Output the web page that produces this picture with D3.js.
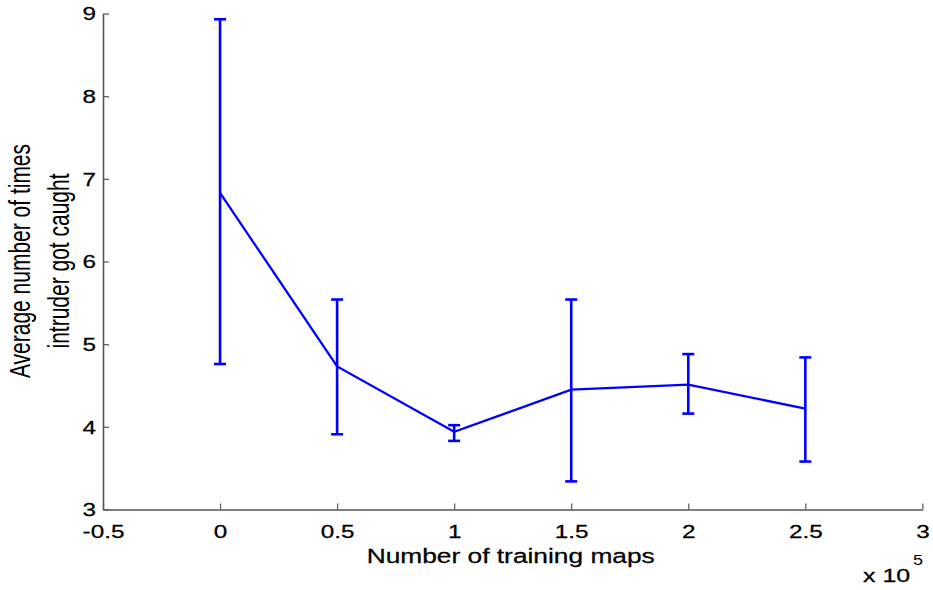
<!DOCTYPE html>
<html>
<head>
<meta charset="utf-8">
<script src="https://cdn.jsdelivr.net/npm/d3@7"></script>
<style>
  html, body { margin: 0; padding: 0; background: #fff; }
  svg { display: block; }
  text { font-family: "Liberation Sans", Arial, Helvetica, sans-serif; fill: #000; }
  .heavy { stroke: #000; stroke-width: 0.25px; }
</style>
</head>
<body>
<svg id="chart" width="933" height="590"></svg>
<script>
// Training-map counts (in units of 1e5) and caught-count statistics
const trainingMaps = [0, 0.5, 1, 1.5, 2, 2.5];
const meanCaught   = [6.83, 4.73, 3.94, 4.45, 4.51, 4.22];
const upperCaught  = [8.93, 5.54, 4.02, 5.54, 4.88, 4.84];
const lowerCaught  = [4.76, 3.91, 3.83, 3.34, 4.16, 3.58];
const xTicks = [-0.5, 0, 0.5, 1, 1.5, 2, 2.5, 3];
const yTicks = [3, 4, 5, 6, 7, 8, 9];

const data = trainingMaps.map((x, i) => ({
  x, mean: meanCaught[i], hi: upperCaught[i], lo: lowerCaught[i]
}));

const svg = d3.select("#chart");
const plotLeft = 103, plotRight = 922.4, plotTop = 13.5, plotBottom = 509.5;
const stretch = 1.35;   // wide glyph proportions used throughout the figure
const axisColor = "#555";
const blue = "#0000ff";

const x = d3.scaleLinear().domain([-0.5, 3]).range([plotLeft, plotRight]);
const y = d3.scaleLinear().domain([3, 9]).range([plotBottom, plotTop]);

// Bottom axis with inward ticks
const xAxis = svg.append("g")
  .attr("transform", `translate(0,${plotBottom})`)
  .call(d3.axisBottom(x).tickValues(xTicks).tickSizeInner(-6).tickSizeOuter(0)
        .tickFormat(d => String(d)));
xAxis.select(".domain").attr("stroke", axisColor).attr("stroke-width", 1.6);
xAxis.selectAll(".tick line").attr("stroke", axisColor).attr("stroke-width", 1.2);
xAxis.selectAll(".tick text")
  .attr("class", "heavy")
  .attr("y", 0).attr("dy", 0)
  .attr("transform", `translate(0,28.5) scale(${stretch},1)`)
  .style("font-size", "18px");

// Left axis with inward ticks
const yAxis = svg.append("g")
  .attr("transform", `translate(${plotLeft},0)`)
  .call(d3.axisLeft(y).tickValues(yTicks).tickSizeInner(-6).tickSizeOuter(0)
        .tickFormat(d => String(d)));
yAxis.select(".domain").attr("stroke", axisColor).attr("stroke-width", 1.6);
yAxis.selectAll(".tick line").attr("stroke", axisColor).attr("stroke-width", 1.2);
yAxis.selectAll(".tick text")
  .attr("class", "heavy")
  .attr("x", 0).attr("dy", "0.36em")
  .attr("transform", `translate(-7,0) scale(${stretch},1)`)
  .style("font-size", "18px");

// Axis titles
svg.append("text")
  .attr("class", "heavy")
  .attr("transform", `translate(${(plotLeft + plotRight) / 2 - 2},563) scale(${stretch},1)`)
  .attr("text-anchor", "middle")
  .style("font-size", "19.5px")
  .text("Number of training maps");

const yTitle = svg.append("g")
  .attr("transform", `translate(0,261) scale(1.4,1)`);
yTitle.append("text")
  .attr("transform", `translate(${30 / 1.4},0) rotate(-90)`)
  .attr("text-anchor", "middle")
  .style("font-size", "21px")
  .text("Average number of times");
yTitle.append("text")
  .attr("transform", `translate(${69 / 1.4},0) rotate(-90)`)
  .attr("text-anchor", "middle")
  .style("font-size", "21px")
  .text("intruder got caught");

// Exponent label for the x axis
svg.append("text")
  .attr("class", "heavy")
  .attr("transform", `translate(863,582) scale(${stretch},1)`)
  .style("font-size", "18.5px")
  .text("x 10");
svg.append("text")
  .attr("transform", `translate(913,565) scale(1.2,1)`)
  .style("font-size", "15px")
  .text("5");

// Error bars
const cap = 6;
const bars = svg.append("g")
  .attr("stroke", blue).attr("stroke-width", 2.6).attr("fill", "none");
data.forEach(d => {
  const cx = x(d.x);
  bars.append("line").attr("x1", cx).attr("x2", cx).attr("y1", y(d.lo)).attr("y2", y(d.hi));
  bars.append("line").attr("x1", cx - cap).attr("x2", cx + cap).attr("y1", y(d.hi)).attr("y2", y(d.hi));
  bars.append("line").attr("x1", cx - cap).attr("x2", cx + cap).attr("y1", y(d.lo)).attr("y2", y(d.lo));
});

// Mean line
svg.append("path")
  .datum(data)
  .attr("fill", "none")
  .attr("stroke", blue)
  .attr("stroke-width", 2.3)
  .attr("d", d3.line().x(d => x(d.x)).y(d => y(d.mean)));
</script>
</body>
</html>
